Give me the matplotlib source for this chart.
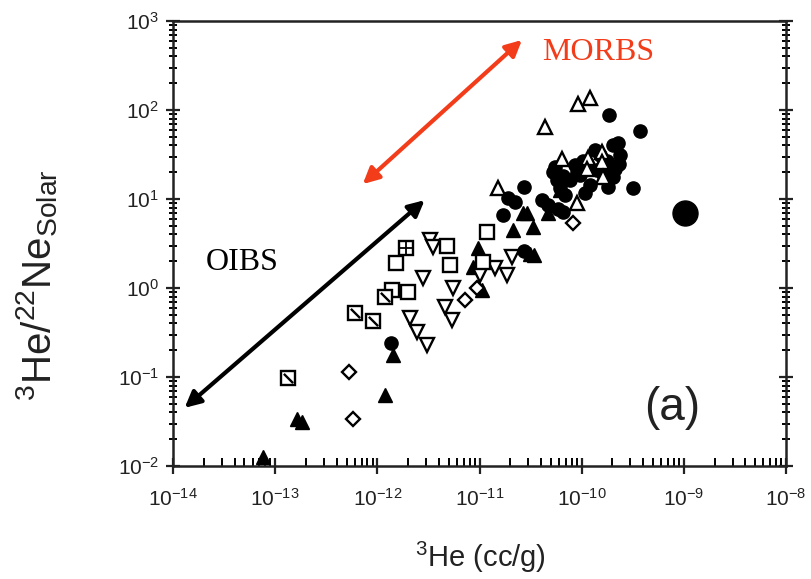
import numpy as np
import matplotlib
matplotlib.use('Agg')
import matplotlib.pyplot as plt
from matplotlib.path import Path
from matplotlib.ticker import LogLocator, NullFormatter

plt.rcParams['font.family'] = ['Liberation Sans', 'DejaVu Sans']
plt.rcParams['mathtext.fontset'] = 'custom'
plt.rcParams['mathtext.rm'] = 'Liberation Sans'
plt.rcParams['mathtext.it'] = 'Liberation Sans'

# filled triangles
tri_f_x = [7.6e-14, 1.63e-13, 1.83e-13, 1.19e-12, 1.42e-12, 8.6e-12, 9.6e-12, 1.05e-11,
           2.12e-11, 2.9e-11, 3.3e-11, 2.66e-11, 4.7e-11, 3.1e-11, 3.4e-11, 6.1e-11]
tri_f_y = [0.0126, 0.034, 0.031, 0.063, 0.177, 1.72, 2.8, 0.95,
           4.5, 7.0, 4.8, 7.0, 7.0, 2.4, 2.35, 12.6]

# filled circles
circ_x = [1.36e-12, 2.72e-11, 1.69e-11, 1.9e-11, 2.2e-11, 4.1e-11, 4.7e-11, 5.85e-11, 6.5e-11,
          1.85e-10, 3.7e-10, 3.17e-10, 2.72e-11,
          5.2e-11, 5.7e-11, 6.1e-11, 6.9e-11, 8.6e-11, 9.6e-11, 1.03e-10, 1.07e-10, 1.2e-10,
          1.41e-10, 1.51e-10, 1.77e-10, 2.02e-10, 2.26e-10, 2.11e-10, 2.02e-10, 1.8e-10,
          7.7e-11, 1.35e-10, 2.36e-10, 5.5e-11, 6.6e-11, 9.0e-11, 1.1e-10, 1.6e-10, 2.3e-10]
circ_y = [0.24, 13.6, 6.6, 10.3, 9.2, 9.7, 8.6, 7.7, 7.1,
          88, 58, 13.3, 2.6,
          20, 16.3, 13.3, 11.1, 24, 18.6, 27, 11.7, 14.4,
          21, 31, 27, 40, 42.6, 22, 17.7, 13.6,
          16.3, 35.6, 31, 23, 18, 20, 24, 19, 25]

# the big filled circle
big_x = [1.02e-9]
big_y = [7.0]

# open up triangles
tri_up_x = [1.2e-10, 9.2e-11, 4.4e-11, 1.51e-11, 6.4e-11, 1.15e-10, 1.58e-10, 1.58e-10,
            1.12e-10, 1.61e-10, 8.97e-11]
tri_up_y = [136, 117, 64, 13.3, 28, 29, 33.7, 26, 22, 17.7, 9.0]

# open down triangles
tri_dn_x = [3.27e-12, 3.5e-12, 2.8e-12, 1.42e-11, 1.85e-11, 2.07e-11, 1.01e-11, 5.5e-12,
            4.6e-12, 5.4e-12, 2.08e-12, 2.44e-12, 3.06e-12]
tri_dn_y = [3.46, 2.9, 1.3, 1.68, 1.4, 2.23, 1.4, 1.0, 0.61, 0.44, 0.46, 0.32, 0.23]

# open squares
sq_x = [1.18e-11, 4.8e-12, 1.52e-12, 5.1e-12, 1.08e-11, 1.99e-12, 1.39e-12]
sq_y = [4.26, 2.96, 1.91, 1.81, 1.96, 0.90, 0.95]

# squares with a diagonal
sq_slash_x = [1.33e-13, 6.0e-13, 9.1e-13, 1.19e-12]
sq_slash_y = [0.098, 0.52, 0.43, 0.79]

# square with a cross
sq_grid_x = [1.9e-12]
sq_grid_y = [2.8]

# open diamonds
dia_x = [5.3e-13, 5.8e-13, 7.2e-12, 9.4e-12, 8.2e-11]
dia_y = [0.114, 0.034, 0.73, 1.0, 5.4]

# arrows (end points)
oib_arrow = [(1.3e-14, 0.045), (2.9e-12, 9.7)]
morb_arrow = [(7.2e-13, 14.7), (2.6e-11, 612)]

fig = plt.figure(figsize=(8.11, 5.79), dpi=100)
ax = fig.add_axes([0.2133, 0.1952, 0.7560, 0.7685])
ax.set_xscale('log')
ax.set_yscale('log')
ax.set_xlim(1e-14, 1e-8)
ax.set_ylim(1e-2, 1e3)

ms = 9.5
ax.plot(tri_f_x, tri_f_y, '^', ms=ms, color='black', ls='none')
ax.plot(circ_x, circ_y, 'o', ms=ms, color='black', ls='none')
ax.plot(big_x, big_y, 'o', ms=18, color='black', ls='none')
open_kw = dict(ms=ms, mfc='white', mec='black', mew=1.7, ls='none')
ax.plot(tri_up_x, tri_up_y, '^', **open_kw)
ax.plot(tri_dn_x, tri_dn_y, 'v', **open_kw)
ax.plot(sq_x, sq_y, 's', **open_kw)
ax.plot(sq_slash_x, sq_slash_y, 's', **open_kw)
slash = Path([(-1, 1), (1, -1)], [Path.MOVETO, Path.LINETO])
ax.plot(sq_slash_x, sq_slash_y, marker=slash, ms=ms * 0.7, mec='black', mew=1.7, ls='none')
ax.plot(sq_grid_x, sq_grid_y, 's', **open_kw)
ax.plot(sq_grid_x, sq_grid_y, '+', ms=ms, mec='black', mew=1.3, ls='none')
ax.plot(dia_x, dia_y, 'D', ms=7, mfc='white', mec='black', mew=1.7, ls='none')

ax.annotate('', xy=oib_arrow[0], xytext=oib_arrow[1],
            arrowprops=dict(arrowstyle='<|-|>', color='black', lw=3, mutation_scale=24,
                            shrinkA=0, shrinkB=0))
ax.annotate('', xy=morb_arrow[0], xytext=morb_arrow[1],
            arrowprops=dict(arrowstyle='<|-|>', color='#f23c1a', lw=3, mutation_scale=24,
                            shrinkA=0, shrinkB=0))

ax.text(0.113, 0.458, 'OIBS', transform=ax.transAxes, fontsize=23,
        family='Liberation Serif', ha='center', va='center')
ax.text(0.693, 0.93, 'MORBS', transform=ax.transAxes, fontsize=23,
        family='Liberation Serif', color='#f23c1a', ha='center', va='center')
ax.text(0.814, 0.13, '(a)', transform=ax.transAxes, fontsize=33,
        color='#222222', ha='center', va='center')

ax.xaxis.set_major_locator(LogLocator(base=10, numticks=10))
ax.xaxis.set_minor_locator(LogLocator(base=10, subs=np.arange(2, 10), numticks=10))
ax.yaxis.set_major_locator(LogLocator(base=10, numticks=10))
ax.yaxis.set_minor_locator(LogLocator(base=10, subs=np.arange(2, 10), numticks=10))
ax.xaxis.set_minor_formatter(NullFormatter())
ax.yaxis.set_minor_formatter(NullFormatter())

ax.tick_params(axis='x', which='major', direction='inout', length=12, width=1.6,
               labelsize=15, pad=10, colors='#222222')
ax.tick_params(axis='x', which='minor', direction='in', length=6, width=1.4)
ax.tick_params(axis='y', which='major', direction='inout', length=10, width=1.6,
               labelsize=15, pad=5, right=True, colors='#222222')
ax.tick_params(axis='y', which='minor', direction='inout', length=6, width=1.4, right=True)
for s in ax.spines.values():
    s.set_linewidth(1.8)
    s.set_color('#222222')

ax.set_xlabel(r'$^{3}$He (cc/g)', fontsize=21, color='#222222')
ax.xaxis.set_label_coords(0.502, -0.165)
ax.set_ylabel(r'$^{3}$He/$^{22}$Ne$_{\rm Solar}$', fontsize=29, color='#222222')
ax.yaxis.set_label_coords(-0.185, 0.407)

fig.savefig('out.png', dpi=100)
